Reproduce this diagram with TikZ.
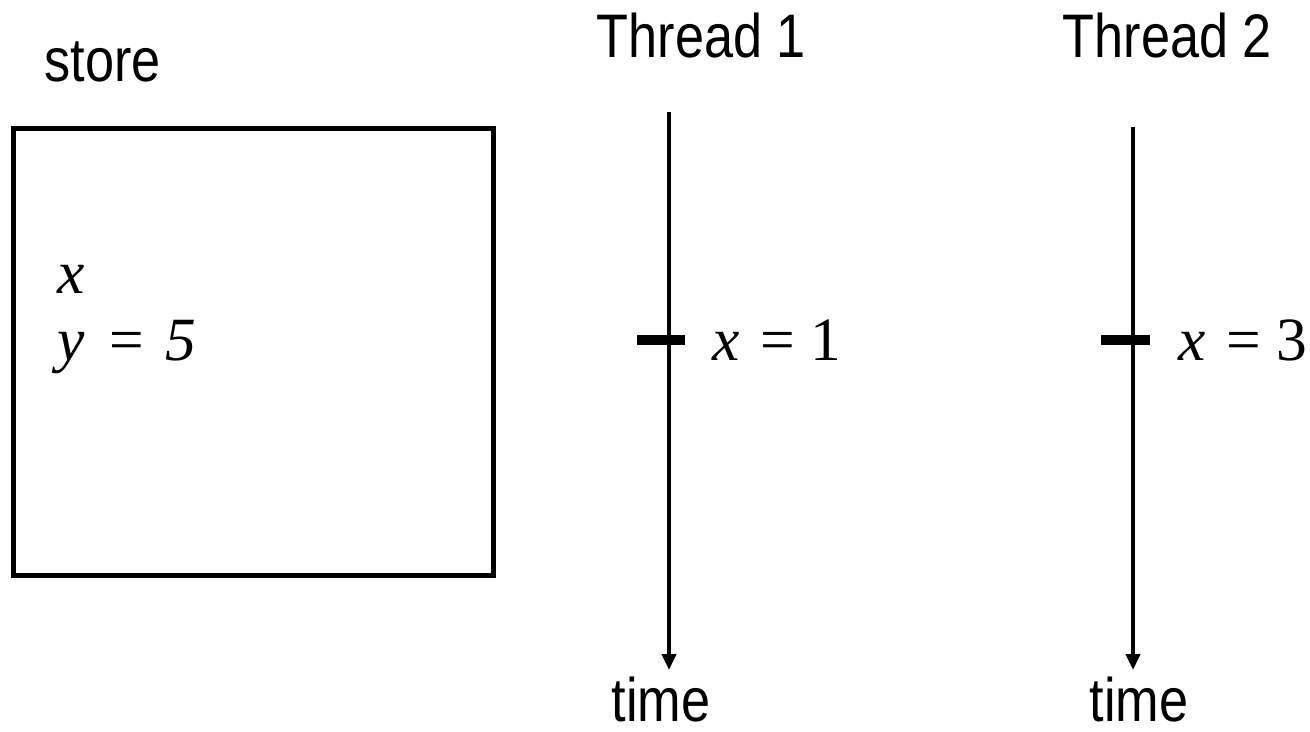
\documentclass[tikz,border=0pt]{standalone}
\usepackage{fontspec}
\setmainfont{Liberation Serif}
\setsansfont[FakeStretch=0.85]{Liberation Sans}
\usetikzlibrary{arrows.meta}
\begin{document}
\begin{tikzpicture}[x=0.02cm,y=-0.02cm,thick,
    head node/.style={inner sep=0,anchor=base west,font=\sffamily\fontsize{35}{40}\selectfont},
    value node/.style={inner sep=0,anchor=base west,font=\rmfamily\fontsize{35}{40}\selectfont},
    thread line/.style={line width=0.08cm,-{Triangle[length=0.32cm,width=0.28cm]}},
    tick/.style={line width=0.2cm}]
        \useasboundingbox (0,0) rectangle (1310,731);

        % store
        \node[head node] at (44, 81) (store) {store};
        \draw[line width=0.1cm] (13.5, 128) rectangle (493, 575);
        \node[value node] at (57, 293) (vx) {\itshape x};
        \node[value node] at (57, 360) (vy) {\itshape y\hspace{0.08em} = \hspace{0.05em}5};

        % thread 1
        \node[head node] at (596, 57) (th1) {Thread 1};
        \coordinate (s1) at (669, 112);
        \coordinate (e1) at (669, 670);
        \coordinate (k1a) at (637, 340);
        \coordinate (k1b) at (685, 340);
        \draw[thread line] (s1) -- (e1);
        \draw[tick] (k1a) -- (k1b);
        \node[value node] at (712, 360) (w1) {\itshape x\upshape\hspace{0.08em} = 1};
        \node[head node] at (611, 721) (time1) {time};

        % thread 2
        \node[head node] at (1062, 57) (th2) {Thread 2};
        \coordinate (s2) at (1133, 127);
        \coordinate (e2) at (1133, 670);
        \coordinate (k2a) at (1101, 340);
        \coordinate (k2b) at (1150, 340);
        \draw[thread line] (s2) -- (e2);
        \draw[tick] (k2a) -- (k2b);
        \node[value node] at (1178, 360) (w2) {\itshape x\upshape\hspace{0.08em} = 3};
        \node[head node] at (1089, 721) (time2) {time};
\end{tikzpicture}
\end{document}
